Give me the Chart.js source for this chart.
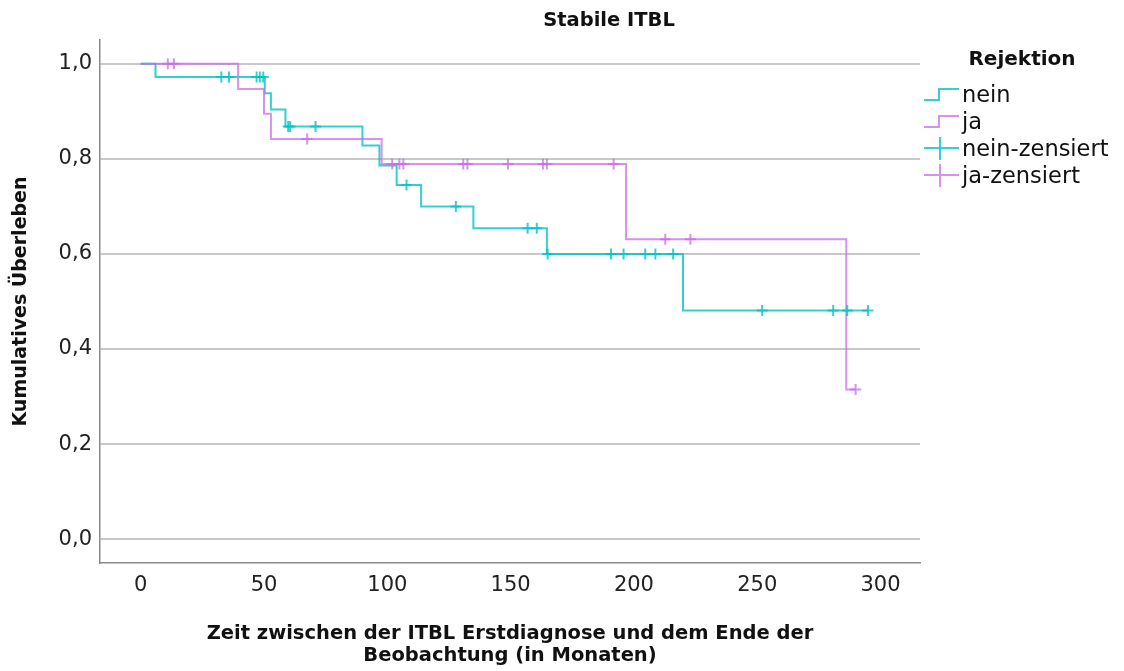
<!DOCTYPE html>
<html><head><meta charset="utf-8">
<script src="https://cdn.jsdelivr.net/npm/chart.js@4.4.1/dist/chart.umd.min.js"></script>
<style>html,body{margin:0;padding:0;background:#fff;}</style>
</head><body>
<canvas id="c" width="1124" height="671" style="display:block;width:1124px;height:671px"></canvas>
<script>
// ---- Texts ----
const chartTitle = 'Stabile ITBL';
const xTitle = ['Zeit zwischen der ITBL Erstdiagnose und dem Ende der', 'Beobachtung (in Monaten)'];
const yTitle = 'Kumulatives Überleben';
const legendTitle = 'Rejektion';
const seriesNames = ['nein', 'ja', 'nein-zensiert', 'ja-zensiert'];

// ---- Tick labels ----
const xTicks = [0, 50, 100, 150, 200, 250, 300];
const yTicks = [0.0, 0.2, 0.4, 0.6, 0.8, 1.0];

// ---- Kaplan-Meier steps (time in months, cumulative survival) ----
const neinTimes = [0, 6, 50.3, 52.8, 58.7, 89.9, 96.8, 103.8, 113.7, 134.9, 164.7, 219.9, 295];
const neinSurv  = [1.0, 0.972, 0.938, 0.904, 0.868, 0.828, 0.786, 0.745, 0.700, 0.654, 0.600, 0.481, 0.481];
const jaTimes   = [0, 39.5, 50.0, 52.8, 97.7, 196.8, 286.1, 289.9];
const jaSurv    = [1.0, 0.947, 0.895, 0.842, 0.789, 0.631, 0.315, 0.315];

// ---- Censored observations (time in months) ----
const neinCensored = [32.7, 35.8, 47.0, 48.3, 49.7, 59.8, 60.6, 70.9, 107.8, 127.8, 156.9, 160.6, 165.0,
                      190.7, 195.8, 204.6, 208.7, 215.9, 252.0, 280.8, 286.5, 294.9];
const jaCensored   = [11.0, 13.5, 67.5, 102.0, 104.9, 106.5, 130.8, 132.5, 148.9, 163.1, 164.7, 191.8,
                      212.7, 222.9, 289.9];

const tealColor = 'rgba(0,196,196,0.8)';
const magentaColor = 'rgba(200,110,230,0.75)';
const FONT = "'DejaVu Sans', sans-serif";

function survAt(times, surv, t) {
  let v = surv[0];
  for (let i = 0; i < times.length; i++) { if (times[i] <= t) v = surv[i]; }
  return v;
}
const pts = (ts, ss) => ts.map((t, i) => ({x: t, y: ss[i]}));
const cens = (cs, ts, ss) => cs.map(t => ({x: t, y: survAt(ts, ss, t)}));

const fmt = v => v.toFixed(1).replace('.', ',');

const overlayPlugin = {
  id: 'overlay',
  afterDraw(chart) {
    const ctx = chart.ctx;
    ctx.save();
    // Title
    ctx.fillStyle = '#111';
    ctx.font = 'bold 19.5px ' + FONT;
    ctx.textAlign = 'center';
    ctx.textBaseline = 'middle';
    ctx.fillText(chartTitle, 609, 21);
    // Legend title
    ctx.font = 'bold 20px ' + FONT;
    ctx.fillText(legendTitle, 1022, 60);
    // Legend items
    const rows = [96, 123, 150, 177];
    const colors = [tealColor, magentaColor, tealColor, magentaColor];
    ctx.font = '22.5px ' + FONT;
    ctx.textAlign = 'left';
    for (let i = 0; i < 4; i++) {
      const y = rows[i];
      ctx.strokeStyle = colors[i];
      ctx.lineWidth = 2;
      ctx.beginPath();
      if (i < 2) {
        ctx.moveTo(924, y + 4); ctx.lineTo(939, y + 4); ctx.lineTo(939, y - 7); ctx.lineTo(959, y - 7);
      } else {
        ctx.moveTo(924, y - 2); ctx.lineTo(959, y - 2);
        ctx.moveTo(940, y - 13); ctx.lineTo(940, y + 10);
      }
      ctx.stroke();
      ctx.fillStyle = '#111';
      ctx.fillText(seriesNames[i], 962, y);
    }
    ctx.restore();
  }
};

new Chart(document.getElementById('c'), {
  type: 'line',
  data: {
    datasets: [
      {type: 'line', label: seriesNames[0], data: pts(neinTimes, neinSurv), stepped: 'before',
       borderColor: tealColor, borderWidth: 2, pointRadius: 0, fill: false, order: 2},
      {type: 'line', label: seriesNames[1], data: pts(jaTimes, jaSurv), stepped: 'before',
       borderColor: magentaColor, borderWidth: 2, pointRadius: 0, fill: false, order: 1},
      {type: 'scatter', label: seriesNames[2], data: cens(neinCensored, neinTimes, neinSurv),
       pointStyle: 'cross', pointRadius: 5.5, borderColor: tealColor, borderWidth: 2, showLine: false},
      {type: 'scatter', label: seriesNames[3], data: cens(jaCensored, jaTimes, jaSurv),
       pointStyle: 'cross', pointRadius: 5.5, borderColor: magentaColor, borderWidth: 2, showLine: false}
    ]
  },
  options: {
    responsive: false,
    animation: false,
    layout: {padding: {top: 40, right: 204, left: 0, bottom: 0}},
    plugins: {legend: {display: false}, title: {display: false}, tooltip: {enabled: false}},
    scales: {
      x: {
        type: 'linear', min: -16.5, max: 316,
        afterBuildTicks: a => { a.ticks = xTicks.map(v => ({value: v})); },
        afterFit: a => { a.height = 108; },
        grid: {display: false, drawTicks: false},
        border: {display: true, color: '#8a8a8a', width: 1.5},
        ticks: {font: {family: FONT, size: 21}, color: '#222', padding: 10, maxRotation: 0, autoSkip: false,
                callback: v => String(v)},
        title: {display: true, text: xTitle, color: '#111',
                font: {family: FONT, size: 19.5, weight: 'bold', lineHeight: 1.13},
                padding: {top: 0, bottom: 4}}
      },
      y: {
        type: 'linear', min: -0.05, max: 1.05,
        afterBuildTicks: a => { a.ticks = yTicks.map(v => ({value: v})); },
        afterFit: a => { a.width = 100; },
        grid: {display: true, color: '#c8c8c8', lineWidth: 2, drawTicks: false},
        border: {display: true, color: '#8a8a8a', width: 1.5},
        ticks: {font: {family: FONT, size: 21}, color: '#222', padding: 8, autoSkip: false,
                callback: v => fmt(v)},
        title: {display: true, text: yTitle, color: '#111',
                font: {family: FONT, size: 19, weight: 'bold', lineHeight: 1.15},
                padding: {top: 10, bottom: 0}}
      }
    }
  },
  plugins: [overlayPlugin]
});
</script>
</body></html>
